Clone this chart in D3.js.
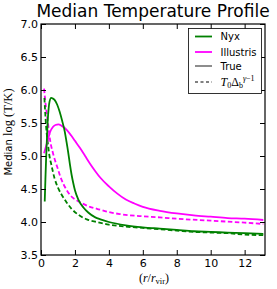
<!DOCTYPE html>
<html><head><meta charset="utf-8">
<script src="https://cdn.jsdelivr.net/npm/d3@7"></script>
<style>
body{margin:0;background:#fff;}
text{font-family:"DejaVu Sans",sans-serif;fill:#000;}
.math{font-family:"Liberation Serif","DejaVu Serif",serif;}
</style></head>
<body><svg id="c" width="277" height="289"></svg>
<script>
// ---- data ----
const nyxTrueR   = [0.22,0.26,0.30,0.34,0.40,0.45,0.50,0.60,0.70,0.80,0.95,1.10,1.25,1.40,1.50,1.60,1.70,1.80,1.90,2.00,2.20,2.50,2.80,3.20,3.50,4.0,5.0,6.0,7.0,8.0,9.0,10.0,11.0,12.0,13.1];
const nyxTrueV   = [4.31,4.65,4.95,5.20,5.55,5.72,5.82,5.88,5.87,5.85,5.78,5.67,5.53,5.37,5.22,5.06,4.88,4.72,4.59,4.48,4.34,4.22,4.14,4.07,4.04,4.00,3.95,3.92,3.90,3.88,3.86,3.85,3.84,3.83,3.82];
const nyxFitR    = [0.20,0.25,0.30,0.40,0.50,0.60,0.80,1.00,1.20,1.50,1.80,2.20,2.70,3.30,4.0,5.0,6.0,7.0,8.0,9.0,10.0,11.0,12.0,13.1];
const nyxFitV    = [5.88,5.65,5.45,5.20,5.00,4.88,4.66,4.52,4.42,4.30,4.20,4.11,4.04,4.00,3.96,3.93,3.91,3.89,3.87,3.85,3.84,3.83,3.81,3.80];
const illTrueR   = [0.18,0.30,0.43,0.53,0.70,0.85,1.03,1.20,1.50,1.78,2.00,2.30,2.60,2.90,3.20,3.50,4.00,4.50,5.00,5.50,6.00,7.0,8.0,9.0,10.0,11.0,12.0,13.1];
const illTrueV   = [5.04,5.15,5.27,5.36,5.44,5.47,5.48,5.46,5.40,5.31,5.23,5.12,5.00,4.88,4.77,4.67,4.54,4.43,4.34,4.28,4.23,4.17,4.13,4.10,4.08,4.06,4.05,4.03];
const illFitR    = [0.18,0.30,0.41,0.53,0.70,0.82,1.00,1.15,1.50,1.78,2.10,2.30,2.88,3.30,4.0,4.65,5.8,7.0,8.0,10.0,12.0,13.1];
const illFitV    = [6.02,5.72,5.50,5.25,5.05,4.94,4.80,4.68,4.49,4.39,4.33,4.30,4.23,4.20,4.15,4.12,4.09,4.07,4.05,4.02,3.99,3.97];
const xTicks = [0,2,4,6,8,10,12];
const yTicks = [3.5,4.0,4.5,5.0,5.5,6.0,6.5,7.0];

const svg = d3.select("#c");
const L=41, R=265, T=24, B=255;
const x = d3.scaleLinear().domain([0,13.2]).range([L,R]);
const y = d3.scaleLinear().domain([3.5,7.0]).range([B,T]);

svg.append("defs").append("clipPath").attr("id","clip")
  .append("rect").attr("x",L).attr("y",T).attr("width",R-L).attr("height",B-T);

const line = d3.line().x(d=>x(d[0])).y(d=>y(d[1])).curve(d3.curveMonotoneX);
const series = [
  {r:illFitR, v:illFitV, c:"#ff00ff", dash:"4.5,2.5"},
  {r:nyxFitR, v:nyxFitV, c:"#008000", dash:"4.5,2.5"},
  {r:illTrueR,v:illTrueV,c:"#ff00ff", dash:null},
  {r:nyxTrueR,v:nyxTrueV,c:"#008000", dash:null},
];
const g = svg.append("g").attr("clip-path","url(#clip)");
series.forEach(s=>{
  g.append("path").datum(s.r.map((r,i)=>[r,s.v[i]]))
   .attr("d",line).attr("fill","none").attr("stroke",s.c)
   .attr("stroke-width",1.8).attr("stroke-dasharray",s.dash);
});

// axes (ticks inward, all four sides)
const tk=5;
svg.append("g").attr("transform",`translate(0,${B})`)
  .call(d3.axisBottom(x).tickValues(xTicks).tickSizeInner(-tk).tickSizeOuter(0).tickPadding(4).tickFormat(d3.format("d")))
  .call(a=>{a.select(".domain").remove();a.selectAll("text").attr("font-size",11).attr("font-family","DejaVu Sans").attr("fill","#000");});
svg.append("g").attr("transform",`translate(0,${T})`)
  .call(d3.axisTop(x).tickValues(xTicks).tickSizeInner(-tk).tickSizeOuter(0).tickFormat(""))
  .call(a=>a.select(".domain").remove());
svg.append("g").attr("transform",`translate(${L},0)`)
  .call(d3.axisLeft(y).tickValues(yTicks).tickSizeInner(-tk).tickSizeOuter(0).tickPadding(3).tickFormat(d3.format(".1f")))
  .call(a=>{a.select(".domain").remove();a.selectAll("text").attr("font-size",11).attr("font-family","DejaVu Sans").attr("fill","#000");});
svg.append("g").attr("transform",`translate(${R},0)`)
  .call(d3.axisRight(y).tickValues(yTicks).tickSizeInner(-tk).tickSizeOuter(0).tickFormat(""))
  .call(a=>a.select(".domain").remove());
svg.selectAll(".tick line").attr("stroke","#000");
svg.append("rect").attr("x",L).attr("y",T).attr("width",R-L).attr("height",B-T)
  .attr("fill","none").attr("stroke","#000").attr("stroke-width",1.2);

// title
svg.append("text").attr("x",(L+R)/2).attr("y",17).attr("text-anchor","middle")
  .attr("font-size",17).text("Median Temperature Profile");

// x label
const xl = svg.append("text").attr("x",154).attr("y",282).attr("text-anchor","middle")
  .attr("class","math").attr("font-size",12);
xl.append("tspan").text("(");
xl.append("tspan").attr("font-style","italic").text("r");
xl.append("tspan").text("/");
xl.append("tspan").attr("font-style","italic").text("r");
xl.append("tspan").attr("font-size",8.5).attr("dy",2).text("vir");
xl.append("tspan").attr("dy",-2).text(")");

// y label
const yl = svg.append("text").attr("transform","translate(12,132) rotate(-90)")
  .attr("text-anchor","middle").attr("font-size",10);
yl.append("tspan").text("Median ");
yl.append("tspan").attr("class","math").attr("font-size",12.5).text("log (T/K)");

// legend
const lg = svg.append("g");
lg.append("rect").attr("x",188.5).attr("y",28.5).attr("width",73).attr("height",65)
  .attr("fill","#fff").attr("stroke","#000").attr("stroke-width",0.8);
const items = [
  {label:"Nyx", c:"#008000", dash:null, y:36.5},
  {label:"Illustris", c:"#ff00ff", dash:null, y:52},
  {label:"True", c:"#808080", dash:null, y:66},
  {label:null, c:"#808080", dash:"3,2.5", y:82},
];
items.forEach(it=>{
  lg.append("line").attr("x1",195).attr("x2",212).attr("y1",it.y).attr("y2",it.y)
    .attr("stroke",it.c).attr("stroke-width",1.8).attr("stroke-dasharray",it.dash);
  if(it.label){
    lg.append("text").attr("x",220.5).attr("y",it.y+3.6).attr("font-size",10).text(it.label);
  } else {
    const t = lg.append("text").attr("x",220.5).attr("y",it.y+3.5).attr("class","math").attr("font-size",12);
    t.append("tspan").attr("font-style","italic").text("T");
    t.append("tspan").attr("font-size",8).attr("dy",2).text("0");
    t.append("tspan").attr("dy",-2).text("Δ");
    t.append("tspan").attr("font-size",8).attr("dy",2.5).text("b");
    t.append("tspan").attr("font-size",8).attr("font-style","italic").attr("dy",-7.5).text("γ");
    t.append("tspan").attr("font-size",8).text("−1");
  }
});
</script></body></html>
